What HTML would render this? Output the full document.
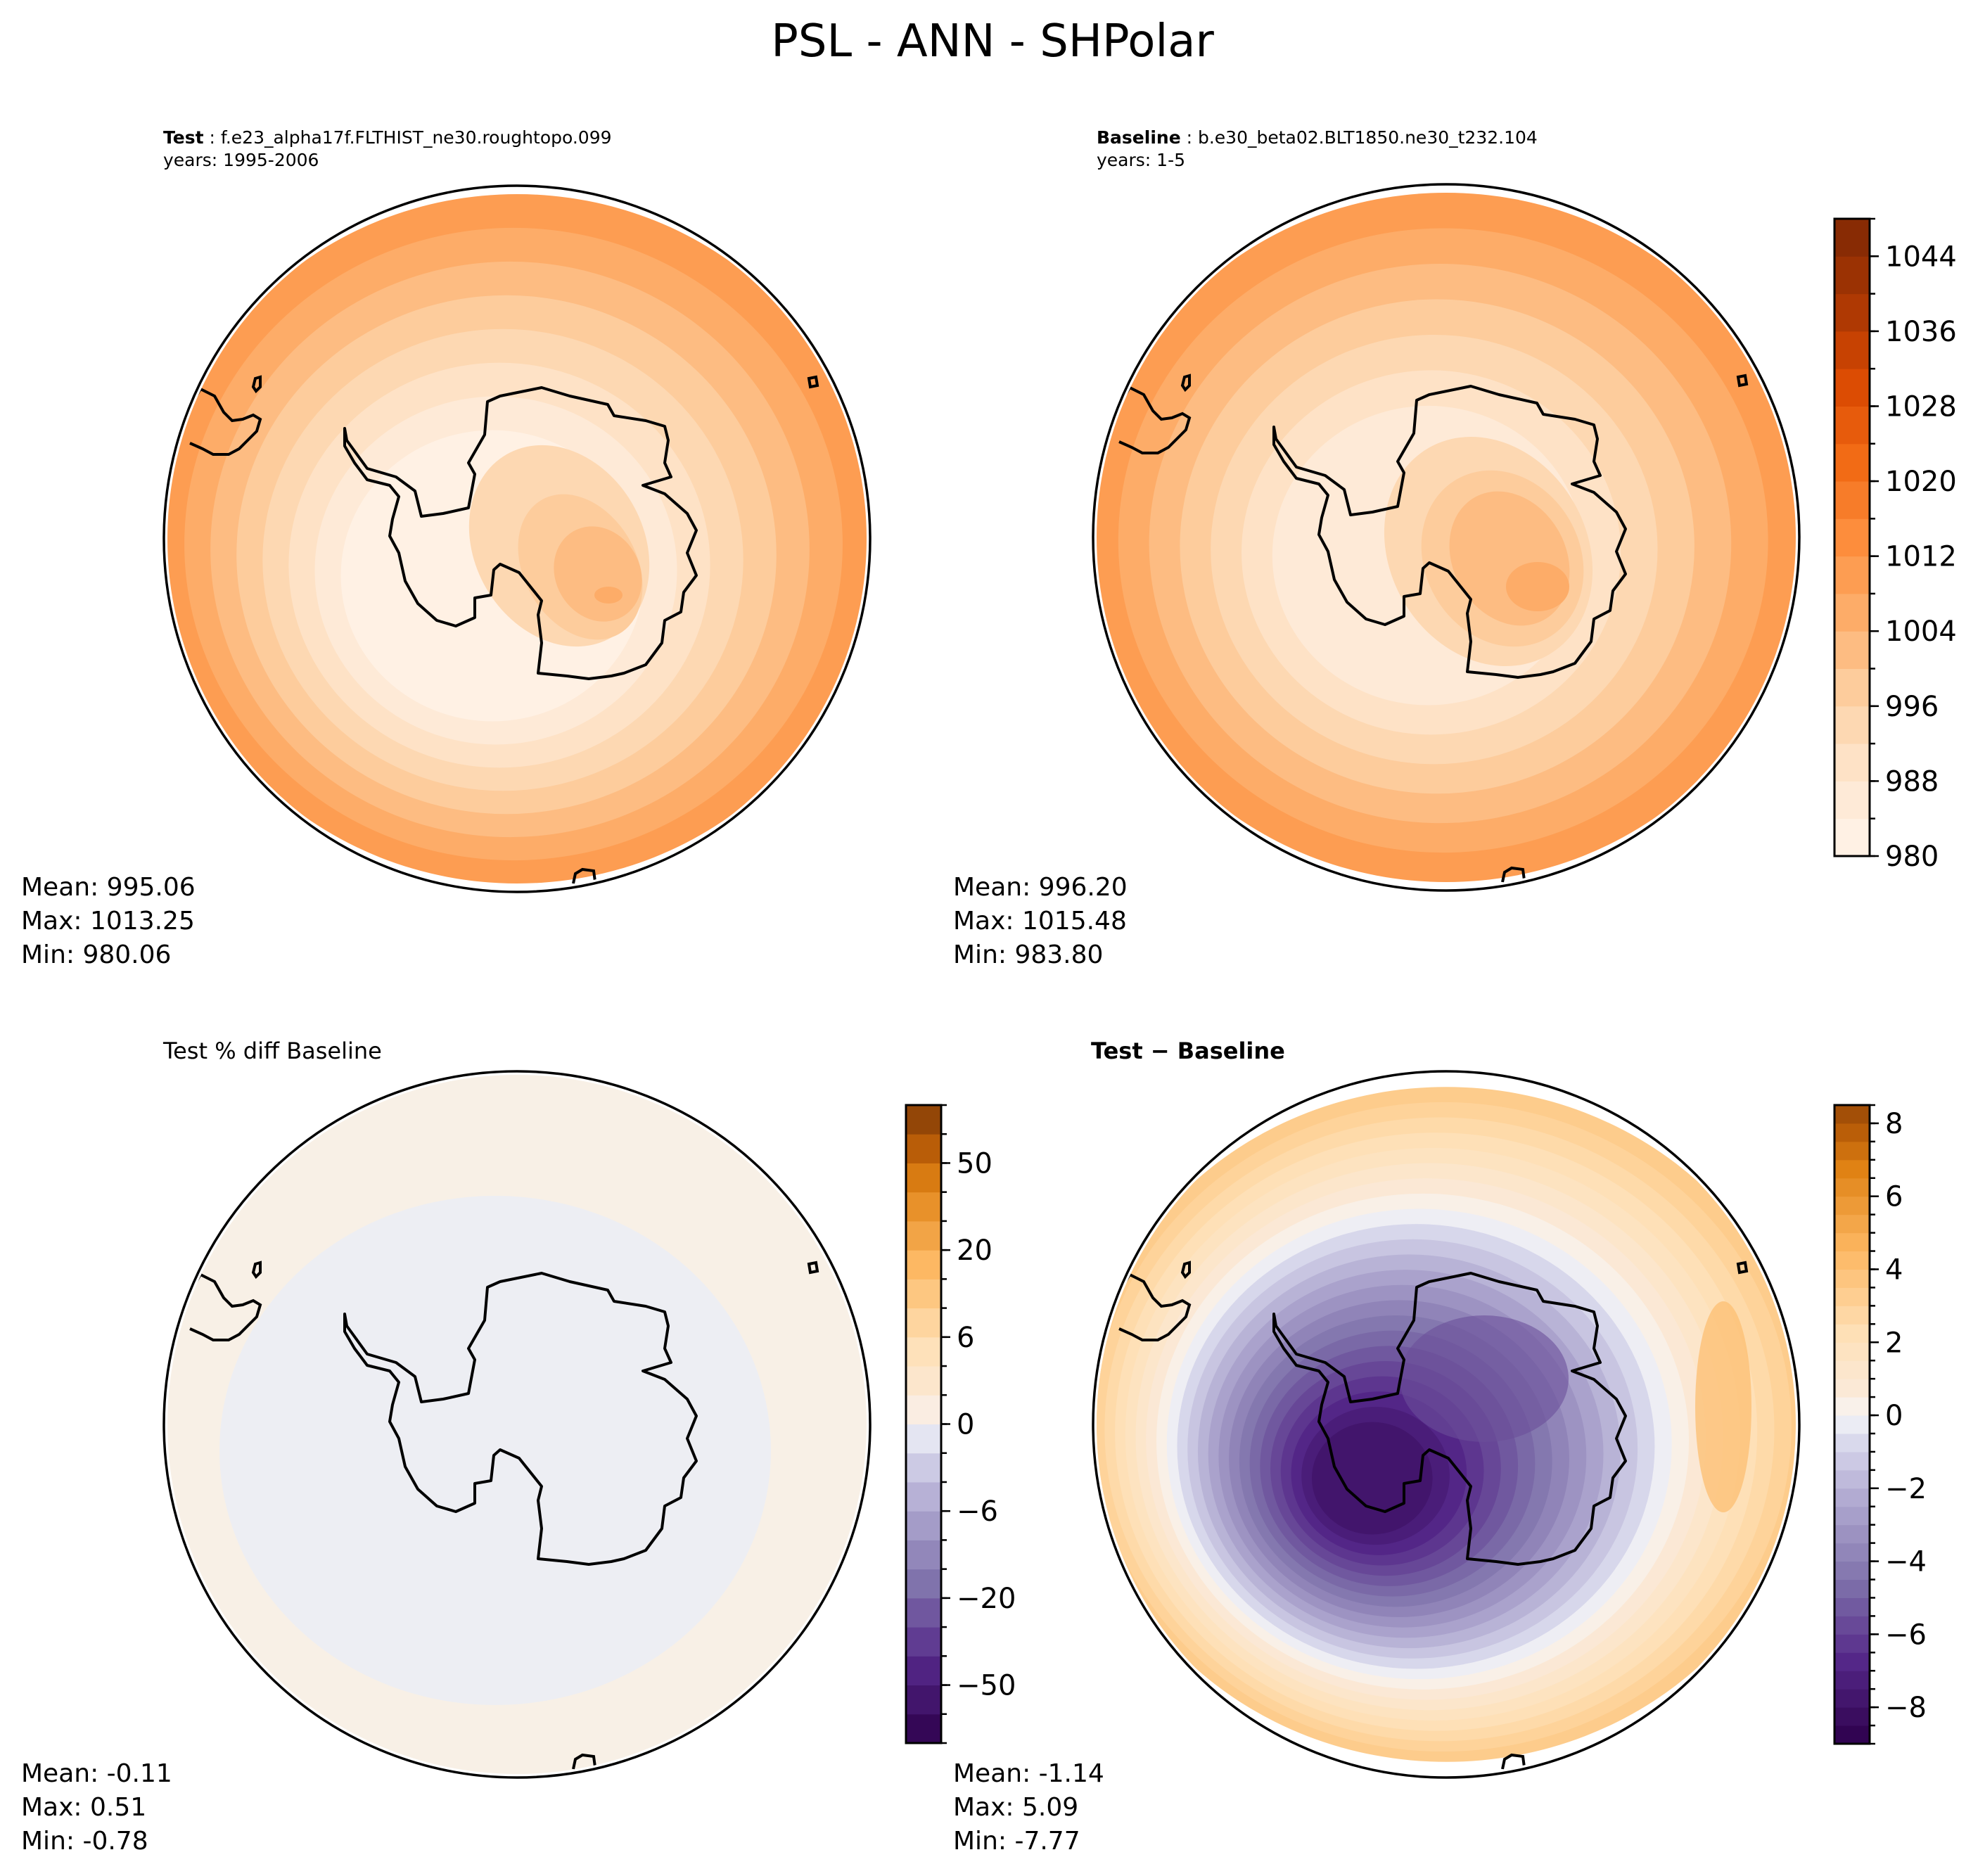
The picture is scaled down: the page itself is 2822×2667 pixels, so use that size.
<!DOCTYPE html>
<html><head><meta charset="utf-8"><style>
html,body{margin:0;padding:0;background:#fff;}
svg{display:block;font-family:"DejaVu Sans","Liberation Sans",sans-serif;}
</style></head><body>
<svg id="fig" width="2822" height="2667" viewBox="0 0 2822 2667" xmlns="http://www.w3.org/2000/svg">
<text x="1411" y="80" font-size="64" text-anchor="middle">PSL - ANN - SHPolar</text>
<g id="layer"></g>
</svg>
<script>
// ---- data ----
const psLevels = [980,984,988,992,996,1000,1004,1008,1012,1016,1020,1024,1028,1032,1036,1040,1044,1048];
const psTicks = [980,988,996,1004,1012,1020,1028,1036,1044];
const pctLevels = [-70,-60,-50,-40,-30,-20,-15,-10,-6,-4,-2,0,2,4,6,10,15,20,30,40,50,60,70];
const pctTicks = [-50,-20,-6,0,6,20,50];
const diffLevels = [-9,-8.5,-8,-7.5,-7,-6.5,-6,-5.5,-5,-4.5,-4,-3.5,-3,-2.5,-2,-1.5,-1,-0.5,0,0.5,1,1.5,2,2.5,3,3.5,4,4.5,5,5.5,6,6.5,7,7.5,8,8.5];
const diffTicks = [-8,-6,-4,-2,0,2,4,6,8];
// ring values (outer -> inner) of the fields
const testRings = [1010,1006,1002,998,994,990,986,982];
const baseRings = [1010,1006,1002,998,994,990,986];
const diffRings = [3.4,3.0,2.6,2.2,1.8,1.3,0.8,0.3,-0.2,-0.8,-1.4,-2.0,-2.6,-3.2,-3.8,-4.3,-4.8,-5.3,-5.8,-6.3,-6.8,-7.3,-7.8];
const testStats = ["Mean: 995.06","Max: 1013.25","Min: 980.06"];
const baseStats = ["Mean: 996.20","Max: 1015.48","Min: 983.80"];
const pctStats = ["Mean: -0.11","Max:  0.51","Min: -0.78"];
const diffStats = ["Mean: -1.14","Max:  5.09","Min: -7.77"];

const NS="http://www.w3.org/2000/svg";
const layer=document.getElementById('layer');
function mk(tag,attrs,parent){const e=document.createElementNS(NS,tag);for(const k in attrs)e.setAttribute(k,attrs[k]);(parent||layer).appendChild(e);return e;}
function hex(h){return [parseInt(h.slice(1,3),16),parseInt(h.slice(3,5),16),parseInt(h.slice(5,7),16)];}
function interp(stops,t){t=Math.max(0,Math.min(1,t));for(let i=1;i<stops.length;i++){if(t<=stops[i][0]){const a=stops[i-1],b=stops[i];const f=(t-a[0])/(b[0]-a[0]);const ca=hex(a[1]),cb=hex(b[1]);return 'rgb('+ca.map((v,j)=>Math.round(v+(cb[j]-v)*f)).join(',')+')';}}return stops[stops.length-1][1];}
const oranges=[[0,'#fff5eb'],[0.125,'#fee6ce'],[0.25,'#fdd0a2'],[0.375,'#fdae6b'],[0.5,'#fd8d3c'],[0.625,'#f16913'],[0.75,'#d94801'],[0.875,'#a63603'],[1,'#7f2704']];
const puor=[[0,'#2d004b'],[0.125,'#542788'],[0.25,'#8073ac'],[0.375,'#b2abd2'],[0.47,'#dedff0'],[0.5,'#f7f7f7'],[0.53,'#fbeadb'],[0.625,'#fee0b6'],[0.75,'#fdb863'],[0.875,'#e08214'],[0.94,'#b35806'],[1,'#7f3b08']];
function psColor(v){return interp(oranges,(v-980)/68);}
function diffColor(v){return interp(puor,(v+9)/18);}

// Antarctica outline, offsets relative to map center (radius 500)
const ant=[[490,611],[493,628],[522,668],[563,680],[590,700],[599,736],[630,732],[666,724],[675,676],[666,660],[689,620],[693,573],[711,565],[770,553],[810,565],[864,577],[873,593],[918,600],[945,608],[950,628],[945,660],[954,680],[914,692],[945,704],[977,732],[990,756],[977,788],[990,820],[972,844],[968,872],[945,884],[941,916],[918,947],[887,959],[869,963],[837,967],[806,963],[765,959],[770,916],[765,876],[770,856],[738,816],[711,804],[702,812],[698,848],[675,852],[675,880],[648,892],[621,884],[594,860],[576,828],[567,788],[554,764],[558,740],[567,708],[554,692],[522,684],[504,660],[490,636]];
const sam=[[270,580],[285,555],[305,565],[318,588],[330,600],[345,598],[360,592],[370,598],[365,615],[352,628],[340,640],[325,648],[303,648],[288,640],[270,632]];
const isl=[[815,1258],[818,1244],[828,1238],[844,1240],[846,1255]];
const isl2=[[1150,540],[1160,538],[1162,550],[1152,552]];
const isl3=[[363,540],[370,538],[370,552],[364,558],[360,552]];
function pts(a,cx,cy){return a.map(p=>(p[0]-735+cx)+','+(p[1]-768+cy)).join(' ');}

function map(cx,cy,name,fill){
  const g=mk('g',{});  
  const cid='clip-'+name; const cp=mk('clipPath',{id:cid},g); mk('circle',{cx:cx,cy:cy,r:497},cp);
  const fg=mk('g',{'clip-path':'url(#'+cid+')'},g);
  fill(fg);
  mk('polygon',{points:pts(ant,cx,cy),fill:'none',stroke:'#000','stroke-width':4,'stroke-linejoin':'round'},g);
  mk('polyline',{points:pts(sam,cx,cy),fill:'none',stroke:'#000','stroke-width':4,'clip-path':'url(#'+cid+')'},g);
  mk('polyline',{points:pts(isl,cx,cy),fill:'none',stroke:'#000','stroke-width':4,'clip-path':'url(#'+cid+')'},g);
  mk('polygon',{points:pts(isl2,cx,cy),fill:'none',stroke:'#000','stroke-width':4},g);
  mk('polygon',{points:pts(isl3,cx,cy),fill:'none',stroke:'#000','stroke-width':4},g);
  mk('circle',{cx:cx,cy:cy,r:502,fill:'none',stroke:'#000','stroke-width':3.5},g);
}
function psFill(rings,dx,dy,blob){return function(fg){
  const n=rings.length;
  const c=fg.parentNode.querySelector('clipPath circle');const cx=+c.getAttribute('cx'),cy=+c.getAttribute('cy');
  rings.forEach((v,i)=>{
    const r=500-i*(330/n); const f=i/n;
    mk('ellipse',{cx:cx+dx*f,cy:cy+dy*f,rx:r*1.02,ry:r*0.98,fill:psColor(v)},fg);});
  blob.forEach(b=>mk('ellipse',{cx:cx+b[0],cy:cy+b[1],rx:b[2],ry:b[3],transform:'rotate('+b[5]+' '+(cx+b[0])+' '+(cy+b[1])+')',fill:psColor(b[4])},fg));
};}
function stats(x,y,lines,name){lines.forEach((t,i)=>{const e=mk('text',{x:x,y:y+i*48,'font-size':36});e.textContent=t;});}
function colorbar(x,y0,y1,levels,ticks,colfn,name){
  const g=mk('g',{});  
  const n=levels.length-1,h=(y1-y0)/n;
  const yOf=v=>{const i=levels.indexOf(v);return y1-i*h;};
  for(let i=0;i<n;i++){const r=mk('rect',{x:x,y:y1-(i+1)*h,width:50,height:h+0.5,fill:colfn(levels[i],i,n)},g);}
  mk('rect',{x:x,y:y0,width:50,height:y1-y0,fill:'none',stroke:'#000','stroke-width':3},g);
  levels.forEach(v=>{const y=yOf(v);mk('line',{x1:x+50,x2:x+58,y1:y,y2:y,stroke:'#000','stroke-width':2.5},g);});
  ticks.forEach(v=>{const y=yOf(v);mk('line',{x1:x+50,x2:x+63,y1:y,y2:y,stroke:'#000','stroke-width':2.5},g);
    const t=mk('text',{x:x+72,y:y+14,'font-size':40},g);t.textContent=(v<0?'\u2212'+(-v):''+v);});
}
function title(x,y,bold,rest,name){const t=mk('text',{x:x,y:y,'font-size':25});
  const b=mk('tspan',{'font-weight':'bold'},t);b.textContent=bold;const r=mk('tspan',{},t);r.textContent=rest;}

// Top-left: Test
title(232,204,'Test',' : f.e23_alpha17f.FLTHIST_ne30.roughtopo.099','test-title');
const y2=mk('text',{x:232,y:236,'font-size':25});y2.textContent='years: 1995-2006';
map(735,766,'test-map',psFill(testRings,-40,60,[[60,10,120,150,994,-30],[90,40,80,110,998,-30],[115,50,60,70,1002,-30],[130,80,20,12,1006,0]]));
stats(30,1273,testStats,'test-stat');
// Top-right: Baseline
title(1559,204,'Baseline',' : b.e30_beta02.BLT1850.ne30_t232.104','baseline-title');
const y3=mk('text',{x:1559,y:236,'font-size':25});y3.textContent='years: 1-5';
map(2056,764,'baseline-map',psFill(baseRings,-30,30,[[60,20,140,170,994,-30],[80,30,110,130,998,-30],[90,30,80,100,1002,-30],[130,70,45,35,1006,0]]));
stats(1355,1273,baseStats,'baseline-stat');
colorbar(2608,311,1217,psLevels,psTicks,v=>psColor(v+2),'psl-colorbar');

// Bottom-left: pct diff
const tl=mk('text',{x:232,y:1505,'font-size':32});tl.textContent='Test % diff Baseline';
map(735,2025,'pct-map',function(fg){mk('rect',{x:200,y:1500,width:1100,height:1100,fill:'#f8f0e6'},fg);mk('ellipse',{cx:704,cy:2062,rx:392,ry:362,fill:'#edeef3'},fg);});
stats(30,2533,pctStats,'pct-stat');
colorbar(1288,1571,2478,pctLevels,pctTicks,(v,i,n)=>interp(puor,(i+0.5)/n),'pct-colorbar');

// Bottom-right: diff
const tr=mk('text',{x:1551,y:1505,'font-size':32,'font-weight':'bold'});tr.textContent='Test \u2212 Baseline';
map(2056,2025,'diff-map',function(fg){
  const cx=2056,cy=2025,n=diffRings.length;
  diffRings.forEach((v,i)=>{const r=505-i*(440/n);const f=i/n;mk('ellipse',{cx:cx-110*f,cy:cy+80*f,rx:r*1.02,ry:r*0.95,fill:diffColor(v)},fg);});
  mk('ellipse',{cx:2450,cy:2000,rx:40,ry:150,fill:diffColor(4.0),opacity:0.8},fg);
  mk('ellipse',{cx:2110,cy:1960,rx:120,ry:90,fill:diffColor(-5.6),opacity:0.6},fg);
});
stats(1355,2533,diffStats,'diff-stat');
colorbar(2608,1571,2479,diffLevels,diffTicks,v=>diffColor(v+0.25),'diff-colorbar');
</script>
</body></html>
